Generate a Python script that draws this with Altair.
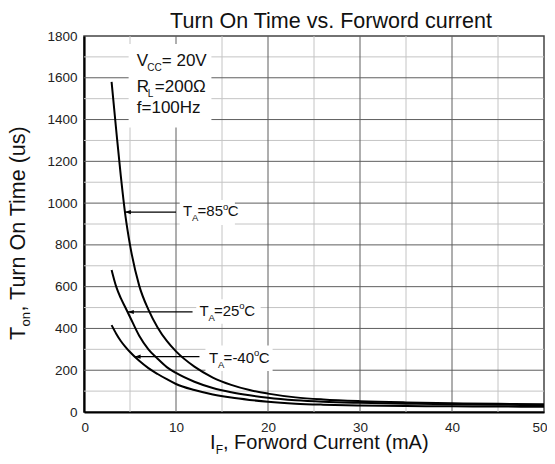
import altair as alt
import pandas as pd

# ---------------- data ----------------
current_ma = [3, 3.5, 4, 4.5, 5, 6, 7, 8, 9, 10, 12, 14, 16, 18, 20, 23, 26, 30, 35, 40, 45, 50]
ton_85 = [1580, 1350, 1130, 940, 800, 605, 490, 405, 340, 290, 217, 165, 130, 105, 88, 70, 60, 52, 46, 42, 39, 37]
ton_25 = [680, 600, 545, 500, 455, 365, 300, 255, 215, 187, 145, 115, 95, 80, 68, 56, 49, 44, 40, 37, 35, 33]
ton_m40 = [416, 375, 340, 312, 287, 245, 210, 182, 157, 134, 105, 84, 69, 58, 49, 40, 35, 31, 29, 27, 26, 25]
series_names = ["85", "25", "-40"]

x_ticks = [0, 10, 20, 30, 40, 50]
y_ticks = [0, 200, 400, 600, 800, 1000, 1200, 1400, 1600, 1800]
x_minor = [5, 15, 25, 35, 45]
x_major = [10, 20, 30, 40]
y_minor = [100, 300, 500, 700, 900, 1100, 1300, 1500, 1700]
y_major = [200, 400, 600, 800, 1000, 1200, 1400, 1600]

title_text = "Turn On Time vs. Forword current"

# ---------------- layout ----------------
W, H = 460, 376
X_DOM, Y_DOM = [0, 50], [0, 1800]
PX_X = W / (X_DOM[1] - X_DOM[0])   # pixels per mA
PX_Y = H / (Y_DOM[1] - Y_DOM[0])   # pixels per us

rows = []
for name, vals in zip(series_names, [ton_85, ton_25, ton_m40]):
    for xv, yv in zip(current_ma, vals):
        rows.append({"series": name, "x": xv, "y": yv})
curves = pd.DataFrame(rows)

FONT = "Arial, Liberation Sans, sans-serif"
INK = "#111111"

xs = alt.Scale(domain=X_DOM, nice=False, zero=False)
ys = alt.Scale(domain=Y_DOM, nice=False)
x_axis = alt.Axis(values=x_ticks, title=None, grid=False, ticks=False, labelFlush=True,
                  labelFlushOffset=3, labelPadding=8, domainColor="black", domainWidth=2.2, format="d")
y_axis = alt.Axis(values=y_ticks, title=None, grid=False, ticks=False, labelFlush=False,
                  labelPadding=7, domainColor="black", domainWidth=2.2, format="d")

def X(field):
    return alt.X(field, scale=xs, axis=x_axis)

def Y(field):
    return alt.Y(field, scale=ys, axis=y_axis)

def vrules(vals, color):
    return alt.Chart(pd.DataFrame({"v": vals})).mark_rule(color=color, strokeWidth=1).encode(x=X("v:Q"))

def hrules(vals, color):
    return alt.Chart(pd.DataFrame({"v": vals})).mark_rule(color=color, strokeWidth=1).encode(y=Y("v:Q"))

grid = [vrules(x_minor, "#c4c4c4"), hrules(y_minor, "#c4c4c4"),
        vrules(x_major, "#5e5e5e"), hrules(y_major, "#5e5e5e")]

# white boxes behind the annotations (data units)
boxes = pd.DataFrame({
    "x1": [4.85, 10.4, 12.2, 13.2],
    "x2": [13.85, 16.4, 19.2, 20.5],
    "y1": [1362, 895, 422, 196],
    "y2": [1762, 1015, 540, 318],
})
box_layer = alt.Chart(boxes).mark_rect(color="white").encode(
    x=X("x1:Q"), x2="x2:Q", y=Y("y1:Q"), y2="y2:Q")

lines = alt.Chart(curves).mark_line(color="black", strokeWidth=2, interpolate="monotone").encode(
    x=X("x:Q"), y=Y("y:Q"), detail="series:N")

# arrows (data units)
arrows = pd.DataFrame({"tip": [4.44, 4.76, 5.5], "tail": [10.0, 11.8, 12.55], "y": [957, 479, 265]})
arrow_lines = alt.Chart(arrows).mark_rule(color="black", strokeWidth=1.3).encode(
    x=X("tip:Q"), x2="tail:Q", y=Y("y:Q"))
arrow_heads = alt.Chart(arrows).mark_point(shape="M0,0L2.2,-0.75L2.2,0.75Z", size=30, filled=True,
                                           color="black", opacity=1).encode(x=X("tip:Q"), y=Y("y:Q"))

# in-plot text pieces: anchor in data units + pixel offsets converted with the scale
pieces = []
def add(text, x, y, dx, dy, size):
    pieces.append({"t": text, "x": x + dx / PX_X, "y": y - dy / PX_Y, "s": size})

# conditions box
add("V", 5.74, 1656, 0, 0, 17); add("CC", 5.74, 1656, 10.5, 4.5, 10); add("= 20V", 5.74, 1656, 25, 0, 17)
add("R", 5.74, 1532, 0, 0, 17); add("L", 5.74, 1532, 11, 5, 10); add("=200Ω", 5.74, 1532, 18, 0, 17)
add("f=100Hz", 5.74, 1429, 0, 0, 17)
# temperature labels
for ax_, ay_, val in [(10.77, 938, "=85"), (12.55, 460, "=25"), (13.6, 235, "=-40")]:
    add("T", ax_, ay_, 0, 0, 15)
    add("A", ax_, ay_, 9, 5, 9.5)
    add(val, ax_, ay_, 14.5, 0, 15)
    w = 25.4 if val != "=-40" else 30.4
    add("o", ax_, ay_, 14.5 + w, -6.5, 9.5)
    add("C", ax_, ay_, 14.5 + w + 4.8, 0, 15)
txt = pd.DataFrame(pieces)
text_layer = alt.Chart(txt).mark_text(align="left", baseline="alphabetic", font=FONT, color=INK).encode(
    x=X("x:Q"), y=Y("y:Q"),
    size=alt.Size("s:Q", scale=None, legend=None), text="t:N")

# outside texts (pixel positions relative to the plot area)
one = pd.DataFrame({"a": [0]})
def outside(text, px, py, size, angle=0, align="left"):
    return alt.Chart(one).mark_text(text=text, align=align, baseline="alphabetic", font=FONT,
                                    fontSize=size, angle=angle, color=INK).encode(
        x=alt.value(px), y=alt.value(py))

outs = [
    outside(title_text, 247, -8, 21.5, align="center"),
    outside("I", 126, 413, 20),
    outside("F", 131.8, 417.5, 12),
    outside(", Forword Current (mA)", 139, 413, 20),
    outside("T", -59, 304, 21.5, angle=270),
    outside("on", -54, 290.5, 13, angle=270),
    outside(", Turn On Time (us)", -59, 275.5, 21.5, angle=270),
]

chart = alt.layer(*grid, box_layer, lines, arrow_lines, arrow_heads, text_layer, *outs).properties(
    width=W, height=H,
    autosize=alt.AutoSizeParams(type="none"),
    padding={"left": 76, "top": 28, "right": 3, "bottom": 43},
).configure_view(stroke="#444444", strokeWidth=1.5).configure_axis(
    labelFont=FONT, labelFontSize=13.5, labelColor="#222222")

chart.save("out.html", embed_options={"renderer": "svg", "actions": False})
